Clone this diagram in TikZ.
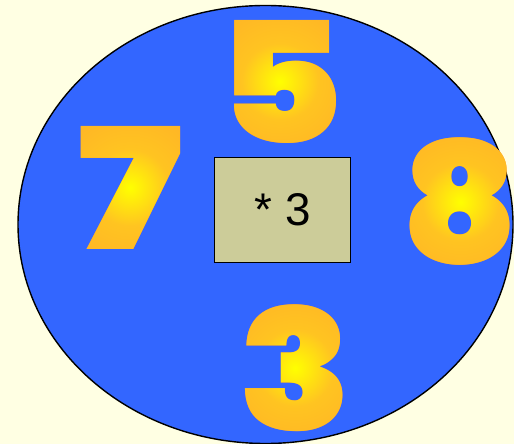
\documentclass[tikz,border=0pt]{standalone}
\usepackage{fontspec}
\usetikzlibrary{fadings,shapes.geometric}
\IfFontExistsTF{Poppins Black}{\newfontfamily\heavy{Poppins Black}}{%
  \IfFontExistsTF{Fira Sans Black}{\newfontfamily\heavy{Fira Sans Black}}{%
    \IfFontExistsTF{Lato Black}{\newfontfamily\heavy{Lato Black}}{\newfontfamily\heavy{DejaVu Sans Bold}}}}
\newfontfamily\arialf{Liberation Sans}
\definecolor{bg}{HTML}{FFFFE3}
\definecolor{blueell}{HTML}{3366FF}
\definecolor{boxfill}{HTML}{CCCC99}
\definecolor{digout}{HTML}{FF9A2E}
\definecolor{digmid}{HTML}{FFC421}
\definecolor{digin}{HTML}{FFFF00}
\pgfdeclareradialshading{digitshade}{\pgfpoint{0bp}{0bp}}{color(0bp)=(digin); color(12bp)=(digmid); color(50bp)=(digout)}
\tikzset{digit/.style={font=\heavy\fontsize{169}{169}\selectfont, inner sep=0pt, text=digout}}
\newcommand\mkdigfade[3]{% name, digit, xscale
  \begin{tikzfadingfrompicture}[name=#1]
    \path (-80bp,-80bp) rectangle (80bp,80bp);
    \node[digit, text=transparent!0] at (0,0) {\scalebox{#3}[1]{#2}};
  \end{tikzfadingfrompicture}}
\mkdigfade{fadefive}{5}{1.15}
\mkdigfade{fadeseven}{7}{1.22}
\mkdigfade{fadeeight}{8}{1.06}
\mkdigfade{fadethree}{3}{1.10}
\newcommand\placedigit[6]{% name, fading, x, y, digit, xscale
  \node[digit] (#1) at (#3,#4) {\scalebox{#6}[1]{#5}};
  \shade[shading=digitshade, path fading=#2, fit fading=false, fading transform={shift={(#3,#4)}}] (#3-80,#4-80) rectangle (#3+80,#4+80);}
\begin{document}
\begin{tikzpicture}[x=1bp,y=-1bp]
\useasboundingbox (0,0) rectangle (514,444);
\fill[bg] (0,0) rectangle (514,444);
\node[draw=black, fill=blueell, line width=1.4bp, ellipse, inner sep=0pt, minimum width=495bp, minimum height=438bp] (oval) at (265.5,224.5) {};
\node[draw=black, fill=boxfill, line width=1.4bp, inner sep=0pt, minimum width=136bp, minimum height=105bp, font=\arialf\fontsize{46}{46}\selectfont] (box) at (282.5,210) {* 3};
\placedigit{five}{fadefive}{280}{81.5}{5}{1.15}
\placedigit{seven}{fadeseven}{130}{187.5}{7}{1.22}
\placedigit{eight}{fadeeight}{460.5}{202}{8}{1.06}
\placedigit{three}{fadethree}{295}{368}{3}{1.10}
\end{tikzpicture}
\end{document}
